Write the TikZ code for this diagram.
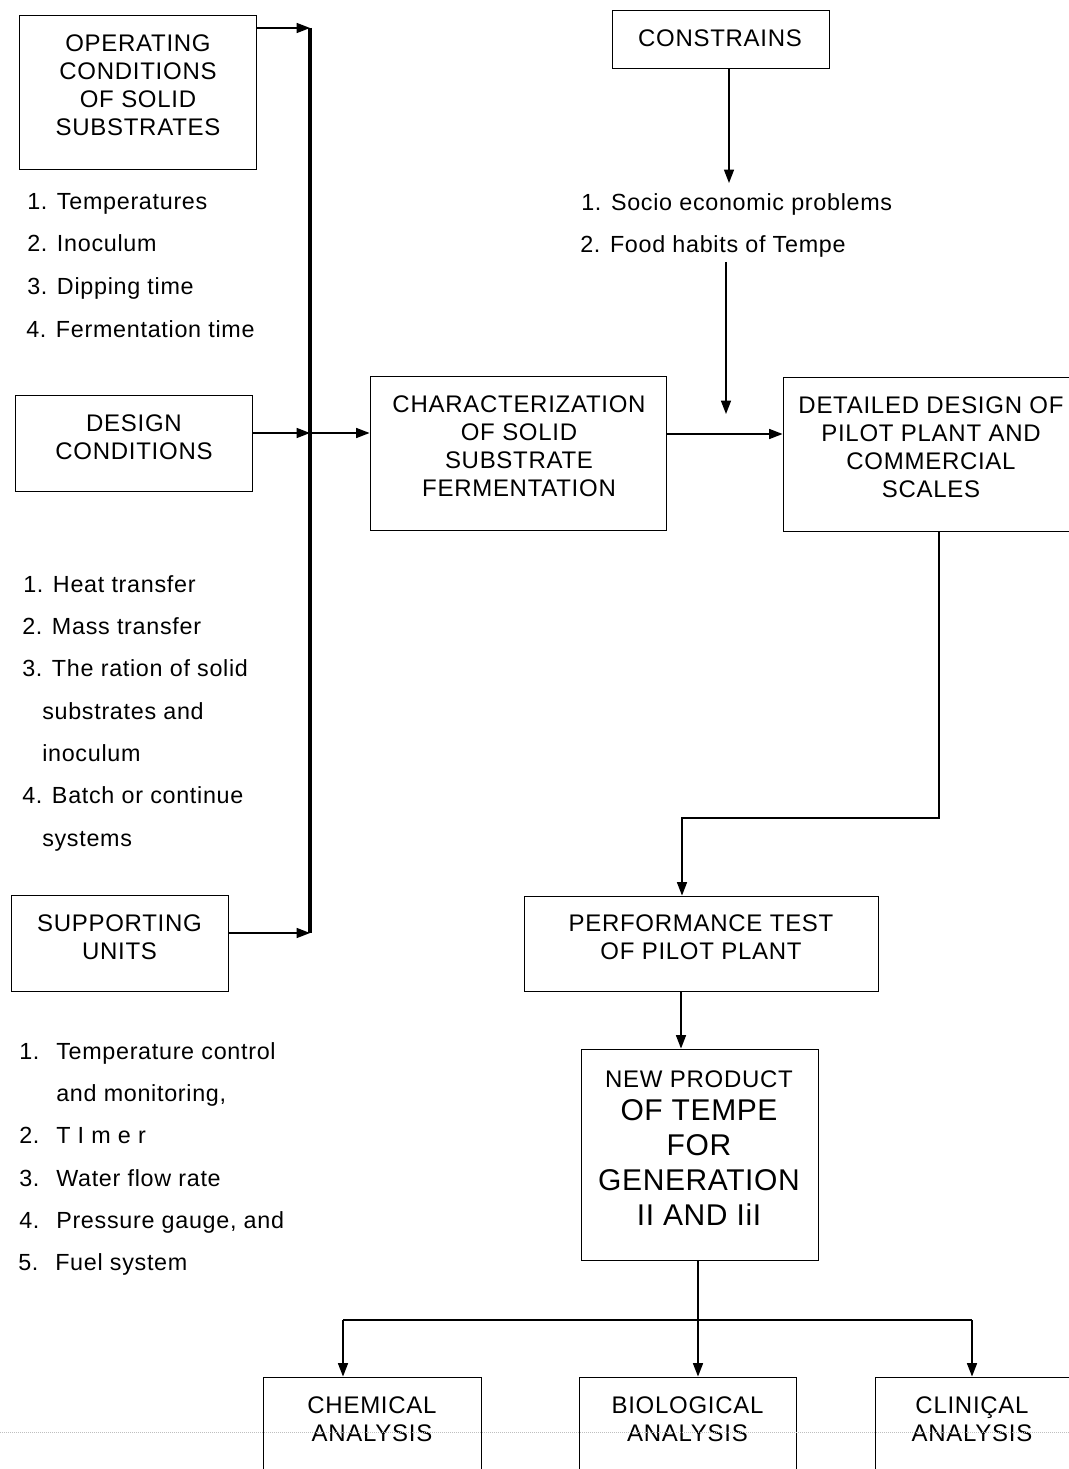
\documentclass[tikz,border=0pt]{standalone}
\usepackage{fontspec}
\setmainfont{Liberation Sans}
\usetikzlibrary{arrows.meta}
\newcommand\bigline{\fontsize{22.5}{26}\selectfont\addfontfeatures{LetterSpace=2}}
\begin{document}
\begin{tikzpicture}[x=0.75pt,y=-0.75pt,
  box/.style={draw,line width=0.7pt,inner sep=0pt},
  boxtext/.style={align=center,inner sep=0pt,font=\fontsize{18}{21}\selectfont\addfontfeatures{LetterSpace=3}},
  item/.style={anchor=base west,inner sep=0pt,font=\fontsize{17.5}{20}\selectfont\addfontfeatures{LetterSpace=3}},
  arr/.style={line width=1pt,-{Triangle[length=10pt,width=7.5pt]}},
  link/.style={line width=1pt},
  bus/.style={line width=2.4pt}]
\clip (0,0) rectangle (1069,1469);
% left column boxes
\node[box,minimum width=177.75pt,minimum height=115.5pt] (opcond) at (137.5,92) {};
\node[boxtext] (opcondtxt) at (138,85.5) {OPERATING\\CONDITIONS\\OF SOLID\\SUBSTRATES};
\node[box,minimum width=177.75pt,minimum height=72pt] (design) at (133.5,443) {};
\node[boxtext] (designtxt) at (134,437) {DESIGN\\CONDITIONS};
\node[box,minimum width=162.75pt,minimum height=72pt] (support) at (119.5,943) {};
\node[boxtext] (supporttxt) at (119.5,937) {SUPPORTING\\UNITS};
% lists
\node[item] (op1) at (27,210) {1. Temperatures};
\node[item] (op2) at (27,252) {2. Inoculum};
\node[item] (op3) at (27,295) {3. Dipping time};
\node[item] (op4) at (26,337) {4. Fermentation time};
\node[item] (de1) at (23,592) {1. Heat transfer};
\node[item] (de2) at (22,634) {2. Mass transfer};
\node[item] (de3) at (22,676) {3. The ration of solid};
\node[item] (de3b) at (42,719) {substrates and};
\node[item] (de3c) at (42,761) {inoculum};
\node[item] (de4) at (22,803) {4. Batch or continue};
\node[item] (de4b) at (42,846) {systems};
\node[item] (su1) at (19,1059) {\makebox[27.75pt][l]{1.}Temperature control};
\node[item] (su1b) at (56,1101) {and monitoring,};
\node[item] (su2) at (19,1143) {\makebox[27.75pt][l]{2.}T I m e r};
\node[item] (su3) at (19,1186) {\makebox[27.75pt][l]{3.}Water flow rate};
\node[item] (su4) at (19,1228) {\makebox[27.75pt][l]{4.}Pressure gauge, and};
\node[item] (su5) at (18,1270) {\makebox[27.75pt][l]{5.}Fuel system};
% bus
\coordinate (bustop) at (310,28);
\coordinate (busmid) at (310,433);
\coordinate (busbot) at (310,933);
\draw[bus] (bustop) -- (busbot);
\draw[arr] (opcond.east |- bustop) -- (bustop);
\draw[arr] (design.east |- busmid) -- (busmid);
\draw[arr] (support.east |- busbot) -- (busbot);
% middle and right
\node[box,minimum width=222pt,minimum height=115.5pt] (charac) at (518,453) {};
\node[boxtext] (charactxt) at (519,446) {CHARACTERIZATION\\OF SOLID\\SUBSTRATE\\FERMENTATION};
\node[box,minimum width=222.75pt,minimum height=115.5pt] (detail) at (931.5,454) {};
\node[boxtext] (detailtxt) at (931,447) {DETAILED DESIGN OF\\PILOT PLANT AND\\COMMERCIAL\\SCALES};
\node[box,minimum width=162.75pt,minimum height=43.5pt] (constr) at (720.5,39) {};
\node[boxtext] (constrtxt) at (720,38) {CONSTRAINS};
\node[item] (co1) at (581,211) {1. Socio economic problems};
\node[item] (co2) at (580,253) {2. Food habits of Tempe};
\draw[arr] (busmid) -- (charac.west |- busmid);
\coordinate (cdown) at (729,183);
\draw[arr] (constr.south -| cdown) -- (cdown);
\coordinate (cfood) at (726,262);
\coordinate (cin) at (726,414);
\draw[arr] (cfood) -- (cin);
\coordinate (join) at (726,434);
\draw[arr] (charac.east |- join) -- (detail.west |- join);
% lower chain
\node[box,minimum width=265.5pt,minimum height=71.25pt] (perf) at (701,943.5) {};
\node[boxtext] (perftxt) at (701,937) {PERFORMANCE TEST\\OF PILOT PLANT};
\node[box,minimum width=177.75pt,minimum height=158.25pt] (newprod) at (699.5,1154.5) {};
\node[boxtext] (newprodtxt) at (699,1148)
  {NEW PRODUCT\\[4pt]\bigline OF TEMPE\\[5.25pt]\bigline FOR\\[5.25pt]\bigline GENERATION\\[5.25pt]\bigline II AND IiI};
\coordinate (turnA) at (939,818);
\coordinate (turnB) at (682,818);
\draw[arr] (detail.south -| turnA) -- (turnA) -- (turnB) -- (perf.north -| turnB);
\coordinate (pn) at (681,1000);
\draw[arr] (perf.south -| pn) -- (newprod.north -| pn);
% analyses
\node[box,minimum width=163.5pt,minimum height=114pt] (chem) at (372,1453) {};
\node[box,minimum width=162.75pt,minimum height=114pt] (bio) at (687.5,1453) {};
\node[box,minimum width=163.5pt,minimum height=114pt] (clin) at (984,1453) {};
\node[boxtext] (chemtxt) at (372,1419) {CHEMICAL\\ANALYSIS};
\node[boxtext] (biotxt) at (687.5,1419) {BIOLOGICAL\\ANALYSIS};
\node[boxtext] (clintxt) at (972,1419) {CLINIÇAL\\ANALYSIS};
\coordinate (split) at (698,1320);
\coordinate (splitL) at (343,1320);
\coordinate (splitR) at (972,1320);
\draw[link] (newprod.south -| split) -- (split);
\draw[link] (splitL) -- (splitR);
\draw[arr] (splitL) -- (chem.north -| splitL);
\draw[arr] (split) -- (bio.north -| split);
\draw[arr] (splitR) -- (clin.north -| splitR);
\draw[gray!50,line width=0.5pt,densely dotted] (0,1432) -- (1069,1432);
\end{tikzpicture}
\end{document}
